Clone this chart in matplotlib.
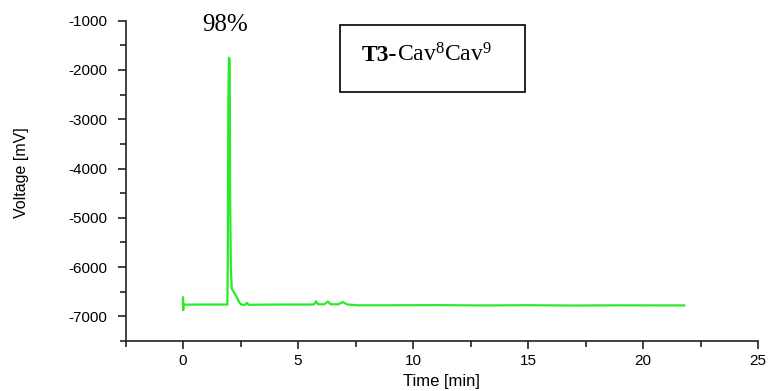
import matplotlib
matplotlib.use("Agg")
from matplotlib import pyplot
from matplotlib.patches import Rectangle
from matplotlib.ticker import MultipleLocator

W, H = 770, 391

# chromatogram trace (time in min, voltage in mV)
time_min = [0.0, 0.0, 0.01, 0.02, 0.1, 1.0, 1.93, 1.95, 1.97, 2.0, 2.03,
            2.05, 2.08, 2.12, 2.3, 2.45, 2.55, 2.7, 2.78, 2.86, 3.5, 4.5,
            5.6, 5.7, 5.78, 5.88, 6.15, 6.3, 6.42, 6.75, 6.95, 7.15, 7.6,
            9.0, 11.0, 13.0, 15.0, 17.0, 19.0, 21.8]
voltage_mv = [-6760, -6610, -6875, -6762, -6762, -6760, -6760, -5650, -2600,
              -1750, -1800, -4600, -6000, -6440, -6580, -6720, -6765, -6765,
              -6725, -6765, -6762, -6760, -6760, -6755, -6695, -6755, -6755,
              -6700, -6755, -6755, -6710, -6760, -6775, -6775, -6772, -6778,
              -6774, -6780, -6776, -6778]

x_label = "Time [min]"
y_label = "Voltage [mV]"
peak_note = "98%"

pyplot.rcParams["font.family"] = "Liberation Sans"
pyplot.rcParams["axes.unicode_minus"] = False

fig = pyplot.figure(figsize=(W / 100, H / 100), dpi=100)
ax = fig.add_axes([125.5 / W, 1 - 341 / H, (758 - 125.5) / W, (341 - 20.7) / H])

ax.plot(time_min, voltage_mv, color="#2aea2a", linewidth=1.6)

ax.set_xlim(-2.5, 25)
ax.set_ylim(-7500, -1000)
ax.xaxis.set_major_locator(MultipleLocator(5))
ax.xaxis.set_minor_locator(MultipleLocator(2.5))
ax.yaxis.set_major_locator(MultipleLocator(1000))
ax.yaxis.set_minor_locator(MultipleLocator(500))

for side in ["top", "right"]:
    ax.spines[side].set_visible(False)
for side in ["left", "bottom"]:
    ax.spines[side].set_linewidth(1.2)
    ax.spines[side].set_color("#222222")

ax.tick_params(axis="both", which="major", direction="out", length=6,
               width=1.2, color="#222222", labelsize=11)
ax.tick_params(axis="both", which="minor", direction="out", length=4,
               width=1.2, color="#222222")
ax.tick_params(axis="y", which="major", pad=7)
ax.tick_params(axis="x", which="major", pad=3.5)

ax.set_xlabel(x_label, fontsize=12)
ax.set_ylabel(y_label, fontsize=11.5)
ax.xaxis.set_label_coords(0.5, -0.125)
ax.xaxis.label.set_va("center")
ax.yaxis.set_label_coords(-0.1644, 0.526)
ax.yaxis.label.set_va("center")

# peak annotation
fig.text(225 / W, 1 - 31 / H, peak_note, family="Liberation Serif",
         fontsize=18, ha="center", va="baseline")

# compound label box
fig.patches.append(Rectangle((340 / W, 1 - 92 / H), 185 / W, 67 / H,
                             transform=fig.transFigure, fill=False,
                             edgecolor="black", linewidth=1.2))
t1 = fig.text(362 / W, 1 - 61 / H, "T3-", family="Liberation Serif",
              fontsize=17, fontweight="bold", va="baseline")
fig.canvas.draw()
bb = t1.get_window_extent()
pyplot.rcParams["mathtext.default"] = "regular"
fig.text(bb.x1 / W, 1 - 61 / H, "Cav$^{8}$Cav$^{9}$",
         family="Liberation Serif", fontsize=17, va="baseline")

fig.savefig("out.png", dpi=100)
